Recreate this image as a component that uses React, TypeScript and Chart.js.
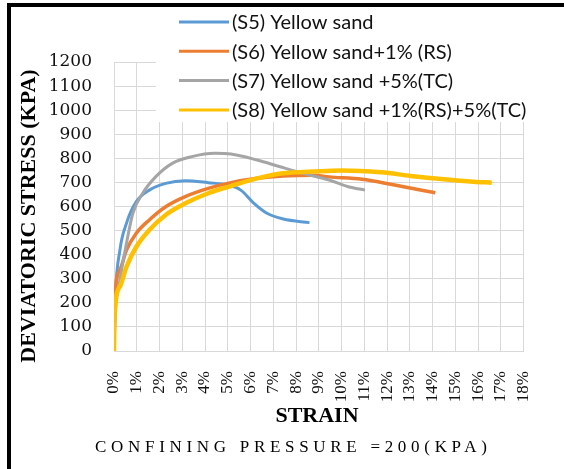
import React, { useEffect, useRef } from "react";
import { Chart, registerables } from "chart.js";

Chart.register(...registerables);

const seriesLabels = [
  "(S5) Yellow sand",
  "(S6) Yellow sand+1% (RS)",
  "(S7) Yellow sand +5%(TC)",
  "(S8) Yellow sand +1%(RS)+5%(TC)",
];
const seriesColors = ["#5B9BD5", "#ED7D31", "#A5A5A5", "#FFC000"];

const strainS5 = [0, 0.05, 0.26, 0.55, 0.98, 1.55, 2.27, 3.13, 4.14, 5.0, 5.57, 6.15, 6.72, 7.44, 8.59];
const stressS5 = [0, 200, 419, 531, 620, 668, 696, 707, 699, 689, 668, 613, 572, 548, 533];

const strainS6 = [0, 0.04, 0.26, 0.55, 0.98, 1.55, 2.27, 3.13, 4.14, 5.14, 6.29, 7.44, 8.74, 9.45, 10.9, 12.33, 14.12];
const stressS6 = [0, 225, 336, 419, 489, 544, 599, 641, 675, 699, 717, 727, 730, 723, 713, 689, 657];

const strainS7 = [0, 0.05, 0.26, 0.55, 0.83, 1.26, 1.84, 2.56, 3.42, 4.43, 5.14, 6.29, 7.3, 8.3, 9.45, 10.3, 11.03];
const stressS7 = [0, 150, 295, 448, 572, 655, 724, 779, 807, 821, 818, 793, 765, 738, 710, 682, 668];

const strainS8 = [0, 0.02, 0.26, 0.55, 0.98, 1.55, 2.27, 3.13, 4.14, 5.14, 6.29, 7.44, 8.74, 10.0, 11.75, 13.04, 14.5, 15.8, 16.6];
const stressS8 = [0, 140, 267, 350, 433, 502, 565, 613, 655, 685, 717, 738, 745, 750, 742, 727, 713, 703, 699];

const xTickMax = 18;
const yTickMax = 1200;
const yTitle = "DEVIATORIC STRESS (KPA)";
const xTitle = "STRAIN";
const footNote = "CONFINING PRESSURE =200(KPA)";

const toPoints = (xs: number[], ys: number[]) => xs.map((x, i) => ({ x, y: ys[i] }));

export default function App() {
  const ref = useRef<HTMLCanvasElement | null>(null);

  useEffect(() => {
    if (!ref.current) return;
    const overlay = {
      id: "overlay",
      afterDraw(chart: any) {
        const ctx = chart.ctx as CanvasRenderingContext2D;
        ctx.save();
        // frame
        ctx.fillStyle = "#000";
        ctx.fillRect(7, 3, 4, 466);
        ctx.fillRect(7, 3, 557, 4);
        // legend background
        ctx.fillStyle = "#fff";
        ctx.fillRect(156, 8, 400, 114);
        // legend items
        chart.data.datasets.forEach((ds: any, i: number) => {
          const y = 22 + i * 29.3;
          ctx.strokeStyle = ds.borderColor;
          ctx.lineWidth = 3;
          ctx.beginPath();
          ctx.moveTo(179, y);
          ctx.lineTo(229, y);
          ctx.stroke();
          ctx.fillStyle = "#111";
          ctx.font = "20px Lato";
          ctx.textAlign = "left";
          ctx.textBaseline = "middle";
          ctx.fillText(ds.label, 232, y + 1);
        });
        // y title
        ctx.save();
        ctx.translate(29, 216);
        ctx.rotate(-Math.PI / 2);
        ctx.font = "bold 22px 'Liberation Serif'";
        ctx.textAlign = "center";
        ctx.textBaseline = "middle";
        ctx.fillStyle = "#000";
        ctx.fillText(yTitle, 0, 0);
        ctx.restore();
        // x title
        ctx.font = "bold 22px 'Liberation Serif'";
        ctx.textAlign = "center";
        ctx.textBaseline = "middle";
        ctx.fillStyle = "#000";
        ctx.fillText(xTitle, 317, 416);
        // footnote
        ctx.font = "17px 'Liberation Serif'";
        (ctx as any).letterSpacing = "4.7px";
        ctx.textAlign = "left";
        ctx.fillStyle = "#000";
        ctx.fillText(footNote, 95, 448);
        ctx.restore();
      },
    };

    const chart = new Chart(ref.current, {
      type: "line",
      data: {
        datasets: [
          { label: seriesLabels[0], data: toPoints(strainS5, stressS5), borderColor: seriesColors[0], borderWidth: 3, order: 4 },
          { label: seriesLabels[1], data: toPoints(strainS6, stressS6), borderColor: seriesColors[1], borderWidth: 3.5, order: 3 },
          { label: seriesLabels[2], data: toPoints(strainS7, stressS7), borderColor: seriesColors[2], borderWidth: 3, order: 2 },
          { label: seriesLabels[3], data: toPoints(strainS8, stressS8), borderColor: seriesColors[3], borderWidth: 4.5, order: 1 },
        ].map((d) => ({ ...d, backgroundColor: d.borderColor, pointRadius: 0, cubicInterpolationMode: "monotone" as const, fill: false })),
      },
      options: {
        responsive: false,
        animation: false,
        devicePixelRatio: 1,
        layout: { padding: { left: 0, right: 32, top: 62, bottom: 0 } },
        plugins: { legend: { display: false }, tooltip: { enabled: false } },
        scales: {
          x: {
            type: "linear",
            min: 0,
            max: xTickMax,
            afterFit: (s: any) => { s.height = 118; },
            grid: { color: "#d9d9d9", drawTicks: false },
            border: { color: "#d9d9d9" },
            ticks: {
              stepSize: 1,
              autoSkip: false,
              minRotation: 90,
              maxRotation: 90,
              padding: 20,
              color: "#111",
              font: { family: "Liberation Serif, serif", size: 17 },
              callback: (v: any) => `${v}%`,
            },
          },
          y: {
            type: "linear",
            min: 0,
            max: yTickMax,
            afterFit: (s: any) => { s.width = 114; },
            grid: { color: "#d9d9d9", drawTicks: false },
            border: { color: "#d9d9d9" },
            ticks: {
              stepSize: 100,
              padding: 22,
              color: "#111",
              font: { family: "DejaVu Serif, serif", size: 17 },
              callback: (v: any) => `${v}`,
            },
          },
        },
      },
      plugins: [overlay],
    });
    return () => chart.destroy();
  }, []);

  return (
    <div style={{ position: "absolute", left: 0, top: 0, width: 564, height: 469, background: "#fff" }}>
      <canvas ref={ref} width={564} height={469} />
    </div>
  );
}
